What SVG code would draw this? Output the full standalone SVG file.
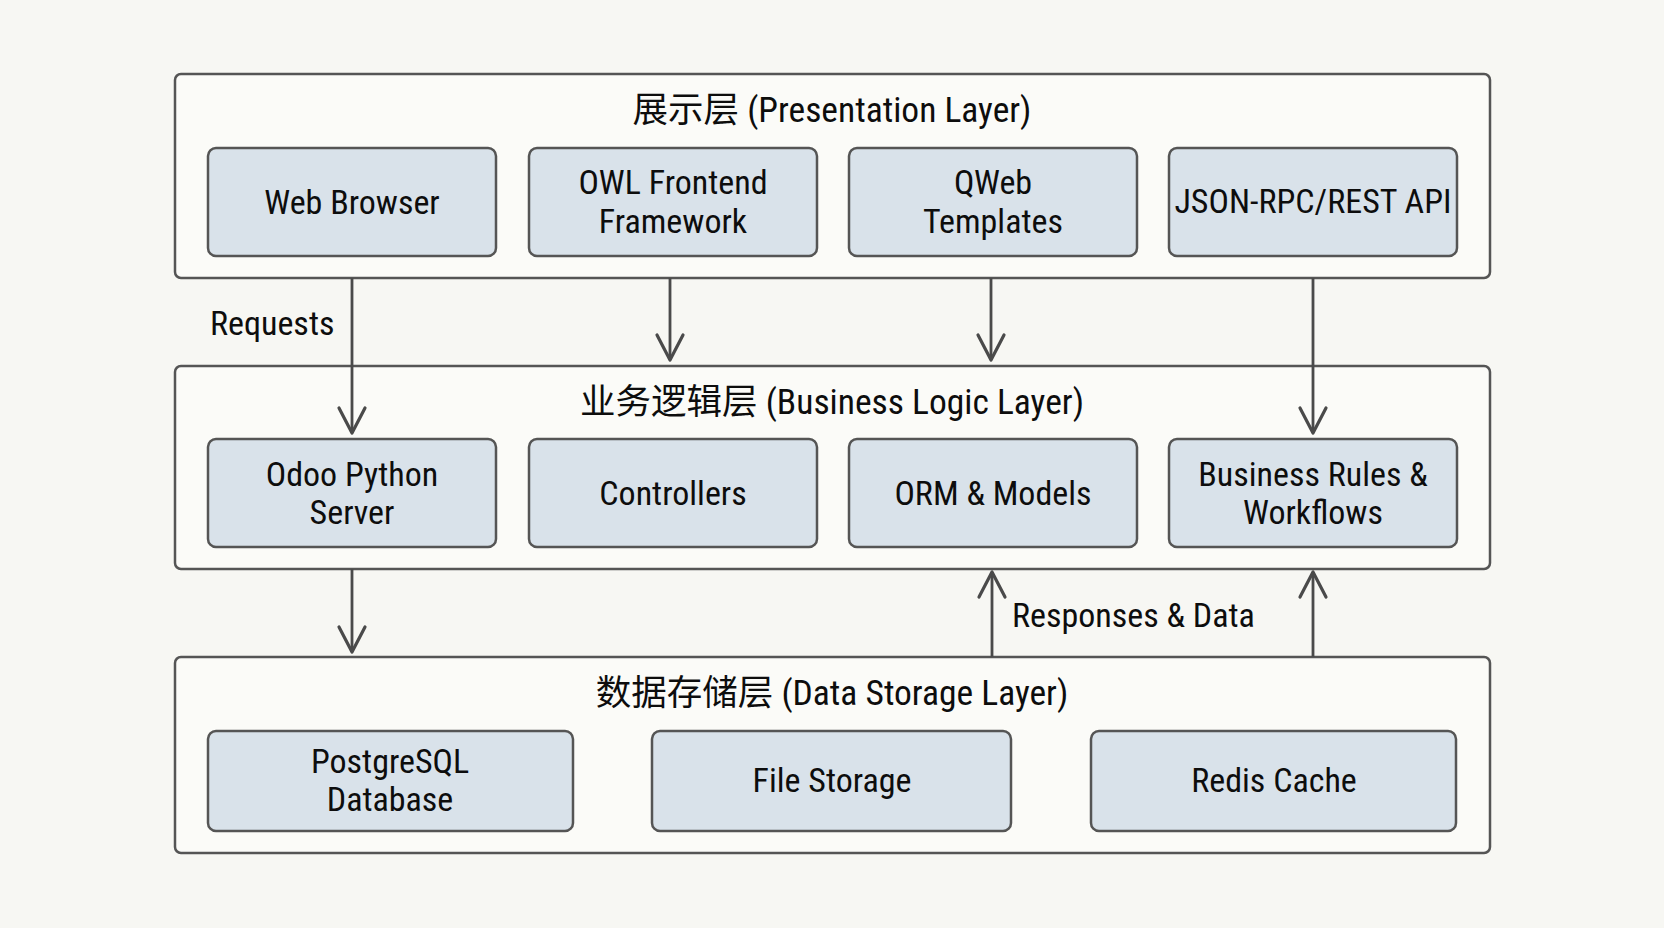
<svg xmlns="http://www.w3.org/2000/svg" width="1664" height="928" viewBox="0 0 1664 928">
  <defs>
    <style>
      .layer { fill: #fbfbf8; stroke: #555; stroke-width: 2.5; }
      .node rect { fill: #d9e2ea; stroke: #555; stroke-width: 2.5; }
      text { font-family: "Roboto", "Noto Sans CJK SC", sans-serif; font-stretch: condensed; font-weight: 400; fill: #0d0d0d; font-size: 34px; text-anchor: middle; dominant-baseline: central; }
      .title { font-size: 35.5px; }
      .lbl { text-anchor: start; }
      .conn { stroke: #4a4a4a; stroke-width: 2.8; fill: none; }
    </style>
    <marker id="arr" markerUnits="userSpaceOnUse" markerWidth="40" markerHeight="40" viewBox="-20 -30 40 40" refX="0" refY="0" orient="auto-start-reverse" overflow="visible">
      <path d="M -13 -25 L 0 0 L 13 -25" fill="none" stroke="#4a4a4a" stroke-width="3.2" stroke-linecap="round" stroke-linejoin="round" transform="rotate(-90)"/>
    </marker>
  </defs>
  <rect width="1664" height="928" fill="#f7f7f3"/>

  <g id="layer-presentation">
    <rect class="layer" x="175" y="74" width="1315" height="204" rx="6"/>
    <text class="title" x="832" y="110">展示层 (Presentation Layer)</text>
  </g>
  <g id="layer-business">
    <rect class="layer" x="175" y="366" width="1315" height="203" rx="6"/>
    <text class="title" x="832" y="402">业务逻辑层 (Business Logic Layer)</text>
  </g>
  <g id="layer-storage">
    <rect class="layer" x="175" y="657" width="1315" height="196" rx="6"/>
    <text class="title" x="832" y="693">数据存储层 (Data Storage Layer)</text>
  </g>

  <g id="connectors">
    <line class="conn" x1="352" y1="278" x2="352" y2="433" marker-end="url(#arr)"/>
    <line class="conn" x1="670" y1="278" x2="670" y2="360" marker-end="url(#arr)"/>
    <line class="conn" x1="991" y1="278" x2="991" y2="360" marker-end="url(#arr)"/>
    <line class="conn" x1="1313" y1="278" x2="1313" y2="433" marker-end="url(#arr)"/>
    <line class="conn" x1="352" y1="569" x2="352" y2="652" marker-end="url(#arr)"/>
    <line class="conn" x1="992" y1="657" x2="992" y2="572" marker-end="url(#arr)"/>
    <line class="conn" x1="1313" y1="657" x2="1313" y2="572" marker-end="url(#arr)"/>
    <text class="lbl" x="210" y="323">Requests</text>
    <text class="lbl" x="1012" y="615">Responses &amp; Data</text>
  </g>

  <g id="web-browser" class="node">
    <rect x="208" y="148" width="288" height="108" rx="8"/>
    <text x="352" y="202">Web Browser</text>
  </g>
  <g id="owl-frontend" class="node">
    <rect x="529" y="148" width="288" height="108" rx="8"/>
    <text x="673" y="182">OWL Frontend</text>
    <text x="673" y="221">Framework</text>
  </g>
  <g id="qweb-templates" class="node">
    <rect x="849" y="148" width="288" height="108" rx="8"/>
    <text x="993" y="182">QWeb</text>
    <text x="993" y="221">Templates</text>
  </g>
  <g id="json-rpc" class="node">
    <rect x="1169" y="148" width="288" height="108" rx="8"/>
    <text x="1313" y="201">JSON-RPC/REST API</text>
  </g>

  <g id="odoo-server" class="node">
    <rect x="208" y="439" width="288" height="108" rx="8"/>
    <text x="352" y="474">Odoo Python</text>
    <text x="352" y="512">Server</text>
  </g>
  <g id="controllers" class="node">
    <rect x="529" y="439" width="288" height="108" rx="8"/>
    <text x="673" y="493">Controllers</text>
  </g>
  <g id="orm-models" class="node">
    <rect x="849" y="439" width="288" height="108" rx="8"/>
    <text x="993" y="493">ORM &amp; Models</text>
  </g>
  <g id="business-rules" class="node">
    <rect x="1169" y="439" width="288" height="108" rx="8"/>
    <text x="1313" y="474">Business Rules &amp;</text>
    <text x="1313" y="512">Workflows</text>
  </g>

  <g id="postgresql" class="node">
    <rect x="208" y="731" width="365" height="100" rx="8"/>
    <text x="390" y="761">PostgreSQL</text>
    <text x="390" y="799">Database</text>
  </g>
  <g id="file-storage" class="node">
    <rect x="652" y="731" width="359" height="100" rx="8"/>
    <text x="832" y="780">File Storage</text>
  </g>
  <g id="redis-cache" class="node">
    <rect x="1091" y="731" width="365" height="100" rx="8"/>
    <text x="1274" y="780">Redis Cache</text>
  </g>
</svg>
